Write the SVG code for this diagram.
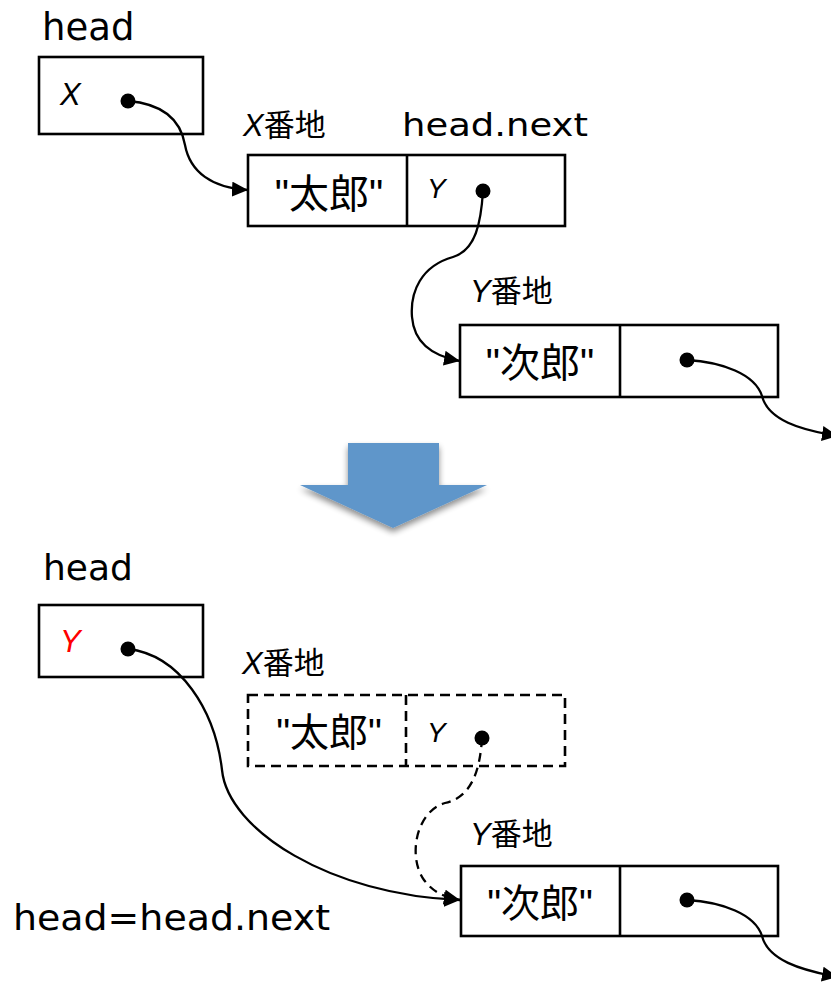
<svg xmlns="http://www.w3.org/2000/svg" width="831" height="985" viewBox="0 0 831 985">
<style>
.box{fill:#fff;stroke:#000;stroke-width:2.6}
.dbox{fill:none;stroke:#000;stroke-width:2.6;stroke-dasharray:10 6}
.div{stroke:#000;stroke-width:2.6}
.ddiv{stroke:#000;stroke-width:2.6;stroke-dasharray:10 6}
.con{fill:none;stroke:#000;stroke-width:2.3}
.dcon{fill:none;stroke:#000;stroke-width:2.3;stroke-dasharray:9 6}
.lat{font-family:"DejaVu Sans","Liberation Sans",sans-serif;fill:#000}
.cjk{font-family:"Liberation Sans","Noto Sans CJK JP",sans-serif;fill:#000}
.it{font-family:"Liberation Sans",sans-serif;font-style:italic}
.dot{fill:#000}
</style>
<defs>
<marker id="ah" markerUnits="userSpaceOnUse" markerWidth="17" markerHeight="15" refX="16" refY="7.5" orient="auto">
<path d="M0,0 L16,7.5 L0,15 Z" fill="#000"/>
</marker>
<filter id="sh" x="-20%" y="-20%" width="140%" height="160%">
<feGaussianBlur in="SourceAlpha" stdDeviation="3"/>
<feOffset dx="0" dy="4" result="b"/>
<feComponentTransfer><feFuncA type="linear" slope="0.45"/></feComponentTransfer>
<feMerge><feMergeNode/><feMergeNode in="SourceGraphic"/></feMerge>
</filter>
</defs>

<!-- top section -->
<g id="head-label-top"><text class="lat" x="42" y="40" font-size="37">head</text></g>
<g id="head-top">
<rect class="box" x="39" y="57" width="164" height="77"/>
<text class="it" x="60" y="105" font-size="31">X</text>
<circle class="dot" cx="128" cy="101" r="7.5"/>
</g>
<g id="xaddr-label-top"><text class="cjk" x="243" y="136" font-size="31"><tspan class="it">X</tspan>番地</text></g>
<g id="headnext-label"><text class="lat" x="402" y="136" font-size="32" textLength="186" lengthAdjust="spacingAndGlyphs">head.next</text></g>
<g id="taro-top">
<rect class="box" x="248" y="155" width="317" height="71"/>
<line class="div" x1="407" y1="155" x2="407" y2="226"/>
<text class="cjk" x="329" y="208" font-size="40" text-anchor="middle">"太郎"</text>
<text class="it" x="427" y="198" font-size="28">Y</text>
<circle class="dot" cx="483" cy="191" r="7.5"/>
</g>
<g id="yaddr-label-top"><text class="cjk" x="470" y="302" font-size="31"><tspan class="it">Y</tspan>番地</text></g>
<g id="jiro-top">
<rect class="box" x="460" y="325" width="318" height="72"/>
<line class="div" x1="620" y1="325" x2="620" y2="397"/>
<text class="cjk" x="540" y="377" font-size="40" text-anchor="middle">"次郎"</text>
<circle class="dot" cx="687" cy="360" r="7.5"/>
</g>

<!-- transition arrow -->
<g id="transition">
<polygon points="348,443 439,443 439,485 487,485 393,528 300,485 348,485" fill="#5F96CA" filter="url(#sh)"/>
</g>

<!-- bottom section -->
<g id="head-label-bottom"><text class="lat" x="43" y="580" font-size="36">head</text></g>
<g id="head-bottom">
<rect class="box" x="39" y="605" width="164" height="72"/>
<text class="it" x="60" y="652" font-size="31" fill="#FF0000">Y</text>
<circle class="dot" cx="128" cy="649" r="7.5"/>
</g>
<g id="xaddr-label-bottom"><text class="cjk" x="242" y="674" font-size="31"><tspan class="it">X</tspan>番地</text></g>
<g id="taro-bottom">
<rect class="dbox" x="248" y="695" width="317" height="71"/>
<line class="ddiv" x1="406" y1="695" x2="406" y2="766"/>
<text class="cjk" x="329" y="746" font-size="39" text-anchor="middle">"太郎"</text>
<text class="it" x="427" y="742" font-size="28">Y</text>
<circle class="dot" cx="482" cy="738" r="7.5"/>
</g>
<g id="yaddr-label-bottom"><text class="cjk" x="470" y="845" font-size="31"><tspan class="it">Y</tspan>番地</text></g>
<g id="jiro-bottom">
<rect class="box" x="461" y="866" width="317" height="70"/>
<line class="div" x1="620" y1="866" x2="620" y2="936"/>
<text class="cjk" x="540" y="917" font-size="39" text-anchor="middle">"次郎"</text>
<circle class="dot" cx="687" cy="900" r="7.5"/>
</g>
<g id="assign-label"><text class="lat" x="13" y="930" font-size="36" textLength="317" lengthAdjust="spacingAndGlyphs">head=head.next</text></g>

<!-- connectors -->
<g id="connectors">
<path class="con" d="M128,101 C165,104 181,122 185,145 C190,172 212,188 248,190" marker-end="url(#ah)"/>
<path class="con" d="M483,191 C481,222 476,250 453,257 C421,266 410,292 412,317 C414,342 432,356 460,361" marker-end="url(#ah)"/>
<path class="con" d="M687,360 C722,362 755,374 762,396 C768,420 800,430 838,436" marker-end="url(#ah)"/>
<path class="con" d="M128,649 C180,655 215,710 222,770 C228,830 330,895 460,900" marker-end="url(#ah)"/>
<path class="dcon" d="M482,738 C480,770 472,797 445,803 C415,812 408,858 424,880 C433,892 444,897 460,900" marker-end="url(#ah)"/>
<path class="con" d="M687,900 C722,902 755,914 762,936 C768,960 800,970 838,977" marker-end="url(#ah)"/>
</g>
</svg>
